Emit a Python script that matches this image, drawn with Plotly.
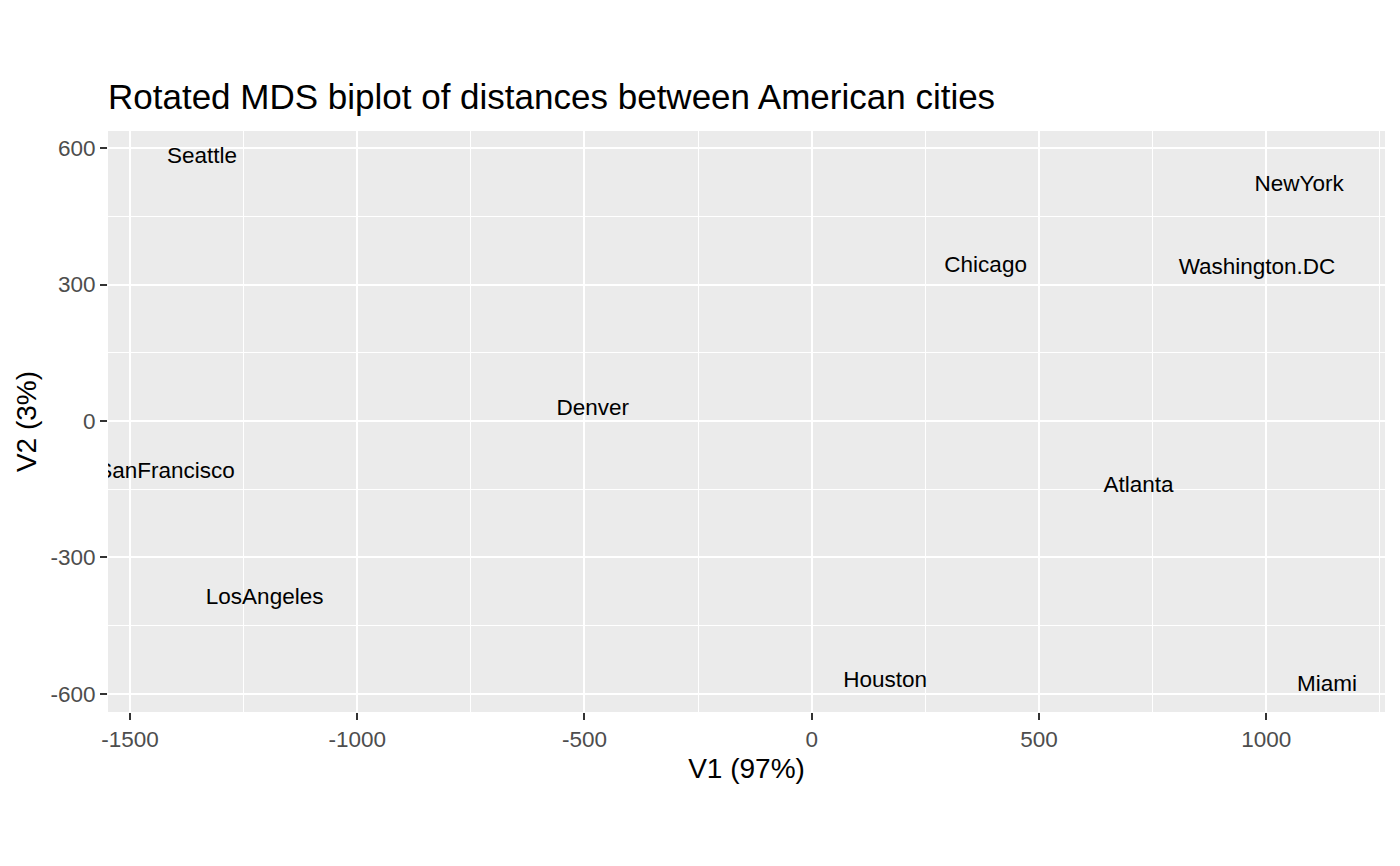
import plotly.graph_objects as go

cities = ["Atlanta", "Chicago", "Denver", "Houston", "LosAngeles", "Miami",
          "NewYork", "SanFrancisco", "Seattle", "Washington.DC"]
v1 = [718.8, 382.6, -481.6, 161.5, -1203.7, 1133.5, 1072.2, -1420.6, -1341.7, 979.6]
v2 = [-143.0, 340.8, 25.3, -572.8, -390.1, -581.9, 519.0, -112.6, 579.7, 335.9]

x_ticks = [-1500, -1000, -500, 0, 500, 1000]
x_tick_labels = ["-1500", "-1000", "-500", "0", "500", "1000"]
y_ticks = [-600, -300, 0, 300, 600]
y_tick_labels = ["-600", "-300", "0", "300", "600"]

title = "Rotated MDS biplot of distances between American cities"
x_title = "V1 (97%)"
y_title = "V2 (3%)"

FONT = "Liberation Sans, Arial, Helvetica, sans-serif"

xr = max(v1) - min(v1)
yr = max(v2) - min(v2)
x_range = [min(v1) - 0.05 * xr, max(v1) + 0.05 * xr]
y_range = [min(v2) - 0.05 * yr, max(v2) + 0.05 * yr]

fig = go.Figure()
fig.add_trace(go.Scatter(
    x=v1, y=v2, text=cities, mode="text", textposition="middle center",
    textfont=dict(family=FONT, size=22.5, color="black"),
    cliponaxis=True, hoverinfo="text", showlegend=False,
))

axis_common = dict(
    showgrid=True, gridcolor="white", gridwidth=2,
    zeroline=False, showline=False,
    ticks="outside", ticklen=7, tickwidth=2, tickcolor="#333333",
    tickfont=dict(family=FONT, size=22.5, color="#4D4D4D"),
    minor=dict(showgrid=True, gridcolor="white", gridwidth=1, ticks=""),
)

fig.update_layout(
    width=1400, height=866,
    margin=dict(l=108, r=15, t=131, b=154, autoexpand=False),
    paper_bgcolor="white", plot_bgcolor="#EBEBEB",
    title=dict(text=title, x=108 / 1400, xanchor="left", xref="container",
               y=1 - 97 / 866, yanchor="middle", yref="container",
               font=dict(family=FONT, size=35, color="black")),
    xaxis=dict(range=x_range, tickmode="array", tickvals=x_ticks, ticktext=x_tick_labels,
               title=dict(text=x_title, font=dict(family=FONT, size=28, color="black"), standoff=7),
               **axis_common),
    yaxis=dict(range=y_range, tickmode="array", tickvals=y_ticks, ticktext=y_tick_labels,
               title=dict(text=y_title, font=dict(family=FONT, size=28, color="black"), standoff=5),
               **axis_common),
)
fig.update_xaxes(minor=dict(tickmode="linear", tick0=0, dtick=250))
fig.update_yaxes(minor=dict(tickmode="linear", tick0=0, dtick=150))

fig.write_html("out.html")
